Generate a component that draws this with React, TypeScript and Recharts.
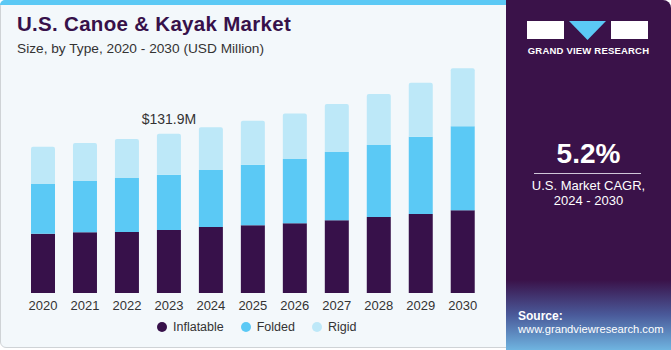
import { BarChart, Bar, XAxis, YAxis, LabelList } from 'recharts';

const years = ['2020', '2021', '2022', '2023', '2024', '2025', '2026', '2027', '2028', '2029', '2030'];
const inflatable = [49.1, 50.3, 50.5, 52.2, 54.6, 56.1, 57.7, 60.2, 62.9, 65.4, 68.5];
const folded = [41.2, 42.5, 44.7, 45.8, 47.2, 50.2, 53.2, 56.6, 59.6, 64.0, 69.6];
const rigid = [30.9, 31.5, 32.3, 33.9, 35.4, 36.4, 37.8, 39.7, 42.2, 44.7, 48.0];
const labelIndex = 3;
const labelText = '$131.9M';

const COLORS = { inflatable: '#37114a', folded: '#5bc9f5', rigid: '#bde8f8' };
const FONT = '"Liberation Sans", Arial, sans-serif';

const data = years.map((year, i) => ({
  year,
  inflatable: inflatable[i],
  folded: folded[i],
  rigid: rigid[i],
}));

const legendItems = [
  { name: 'Inflatable', color: COLORS.inflatable },
  { name: 'Folded', color: COLORS.folded },
  { name: 'Rigid', color: COLORS.rigid },
];

const TopLabel = (props: any) => {
  const { x, y, width, index } = props;
  if (index !== labelIndex) return null;
  return (
    <text x={x + width / 2} y={y - 10} textAnchor="middle" fontSize={14} fill="#333" fontFamily={FONT}>
      {labelText}
    </text>
  );
};

export default function App() {
  return (
    <div style={{ position: 'absolute', left: 0, top: 0, width: 671, height: 350, overflow: 'hidden', fontFamily: FONT }}>
      {/* left card */}
      <div
        style={{
          position: 'absolute', left: 0, top: 0, width: 516, height: 348,
          background: '#f3f8fb', border: '1px solid #cfd3d6', borderRadius: 6, boxSizing: 'border-box',
        }}
      />
      <div style={{ position: 'absolute', left: 0, top: 0, width: 512, height: 5, background: '#5bc9f5', borderTopLeftRadius: 6 }} />
      <div style={{ position: 'absolute', left: 17, top: 12, fontSize: 20.5, fontWeight: 'bold', color: '#37114a', letterSpacing: 0.3 }}>
        U.S. Canoe &amp; Kayak Market
      </div>
      <div style={{ position: 'absolute', left: 17, top: 41, fontSize: 13.7, color: '#333' }}>
        Size, by Type, 2020 - 2030 (USD Million)
      </div>

      <div style={{ position: 'absolute', left: 0, top: 0 }}>
        <BarChart width={500} height={350} data={data} margin={{ top: 51.5, right: 16.3, left: 22, bottom: 27 }}>
          <XAxis
            dataKey="year"
            axisLine={false}
            tickLine={false}
            height={30}
            tick={{ fontSize: 13, fill: '#333', fontFamily: FONT }}
            tickMargin={2}
          />
          <YAxis hide domain={[0, 200]} />
          <Bar dataKey="inflatable" stackId="a" fill={COLORS.inflatable} barSize={24} isAnimationActive={false} />
          <Bar dataKey="folded" stackId="a" fill={COLORS.folded} barSize={24} isAnimationActive={false} />
          <Bar dataKey="rigid" stackId="a" fill={COLORS.rigid} barSize={24} radius={[2, 2, 0, 0]} isAnimationActive={false}>
            <LabelList dataKey="rigid" content={TopLabel} />
          </Bar>
        </BarChart>
      </div>

      {/* legend */}
      <div style={{ position: 'absolute', top: 320, left: 157, display: 'flex', alignItems: 'center', fontSize: 12.5, color: '#333' }}>
        {legendItems.map((item) => (
          <div key={item.name} style={{ display: 'flex', alignItems: 'center', marginRight: 17 }}>
            <span style={{ width: 10, height: 10, borderRadius: 5, background: item.color, display: 'inline-block', marginRight: 6 }} />
            {item.name}
          </div>
        ))}
      </div>

      {/* right panel */}
      <div
        style={{
          position: 'absolute', left: 506, top: 0, width: 165, height: 350, borderTopRightRadius: 8,
          background: 'linear-gradient(to bottom, #3a1249 0%, #3a1249 80%, #4a5a9a 90%, #6fb4e0 100%)',
          color: '#fff', textAlign: 'center',
        }}
      >
        <svg width={165} height={45} style={{ position: 'absolute', left: 0, top: 0 }}>
          <rect x={21} y={21} width={37} height={18} fill="#fff" />
          <polygon points="63,21 100,21 81.5,40" fill="#5bc9f5" />
          <rect x={105} y={21} width={37} height={18} fill="#fff" />
        </svg>
        <div style={{ position: 'absolute', top: 45, left: 0, width: 165, fontSize: 9.5, fontWeight: 'bold', letterSpacing: 0.2 }}>
          GRAND VIEW RESEARCH
        </div>
        <div style={{ position: 'absolute', top: 138, left: 0, width: 165, fontSize: 28, fontWeight: 'bold' }}>5.2%</div>
        <div style={{ position: 'absolute', top: 173, left: 28, width: 107, height: 1, background: '#cfc6d8' }} />
        <div style={{ position: 'absolute', top: 178, left: 0, width: 165, fontSize: 13, lineHeight: '15px' }}>
          U.S. Market CAGR,
          <br />
          2024 - 2030
        </div>
        <div style={{ position: 'absolute', top: 309, left: 12, fontSize: 12, fontWeight: 'bold', textAlign: 'left' }}>Source:</div>
        <div style={{ position: 'absolute', top: 323, left: 12, fontSize: 11.2, textAlign: 'left' }}>www.grandviewresearch.com</div>
      </div>
    </div>
  );
}
